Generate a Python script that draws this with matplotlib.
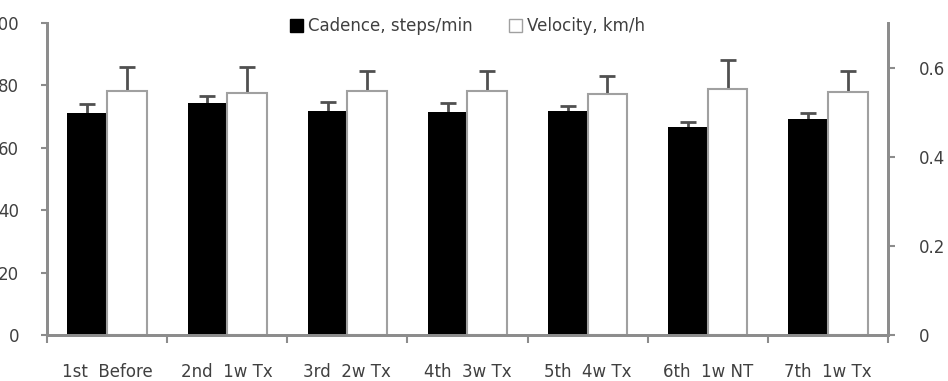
import numpy as np
import matplotlib.pyplot as plt
from matplotlib.patches import Patch

sessions = ["1st  Before", "2nd  1w Tx", "3rd  2w Tx", "4th  3w Tx",
            "5th  4w Tx", "6th  1w NT", "7th  1w Tx"]
cadence = [71.3, 74.3, 71.9, 71.4, 71.9, 66.6, 69.1]
cadence_sd = [2.7, 2.3, 2.9, 2.9, 1.6, 1.8, 2.2]
velocity = [0.548, 0.542, 0.547, 0.547, 0.540, 0.551, 0.545]
velocity_sd = [0.053, 0.060, 0.045, 0.045, 0.041, 0.066, 0.047]

spine_col = '#8c8c8c'
text_col = '#404040'
err_col = '#505050'

fig = plt.figure(figsize=(9.48, 3.81), dpi=100)
ax = fig.add_axes([47/948, 46/381, 841/948, 312/381])
ax2 = ax.twinx()

x = np.arange(len(sessions))
w = 0.33
ax.bar(x - w/2, cadence, w, color='black', edgecolor='black', linewidth=0, zorder=2)
ax2.bar(x + w/2, velocity, w, color='white', edgecolor='#a0a0a0', linewidth=1.5, zorder=2)

# upper-only error bars
for a, xs, vals, sds in ((ax, x - w/2, cadence, cadence_sd),
                         (ax2, x + w/2, velocity, velocity_sd)):
    _, caps, _ = a.errorbar(xs, vals, yerr=[np.zeros(len(xs)), sds], fmt='none',
                            ecolor=err_col, elinewidth=2, capsize=6, capthick=2, zorder=1)
    caps[0].set_visible(False)

ax.set_xlim(-0.5, len(sessions) - 0.5)
ax.set_ylim(0, 100)
ax2.set_ylim(0, 0.7)
ax.set_yticks([0, 20, 40, 60, 80, 100])
ax2.set_yticks([0, 0.2, 0.4, 0.6])
ax2.set_yticklabels(['0', '0.2', '0.4', '0.6'])

# group boundaries as tick marks, labels at group centres
ax.set_xticks(np.arange(-0.5, len(sessions), 1.0))
ax.set_xticklabels([])
ax.set_xticks(x, minor=True)
ax.set_xticklabels(sessions, minor=True)
ax.tick_params(axis='x', which='minor', length=0, pad=20, labelsize=12, labelcolor=text_col)
ax.tick_params(axis='x', which='major', length=6, width=1.5, color=spine_col, direction='out')
ax.tick_params(axis='y', length=4, width=1.5, color=spine_col, pad=16,
               labelsize=12, labelcolor=text_col)
ax2.tick_params(axis='y', length=5, width=1.5, color=spine_col, pad=17,
                labelsize=12, labelcolor=text_col)

for a in (ax, ax2):
    a.spines['top'].set_visible(False)
    for s in ('left', 'right', 'bottom'):
        a.spines[s].set_color(spine_col)
        a.spines[s].set_linewidth(2)

handles = [Patch(facecolor='black', edgecolor='black', label='Cadence, steps/min'),
           Patch(facecolor='white', edgecolor='#a0a0a0', label='Velocity, km/h')]
leg = ax2.legend(handles=handles, loc='center', bbox_to_anchor=(0.5, 0.99), ncol=2,
                 frameon=False, fontsize=12, handlelength=0.8, handleheight=0.8,
                 handletextpad=0.3, columnspacing=2.2)
for t in leg.get_texts():
    t.set_color(text_col)

fig.savefig('out.png', dpi=100)
